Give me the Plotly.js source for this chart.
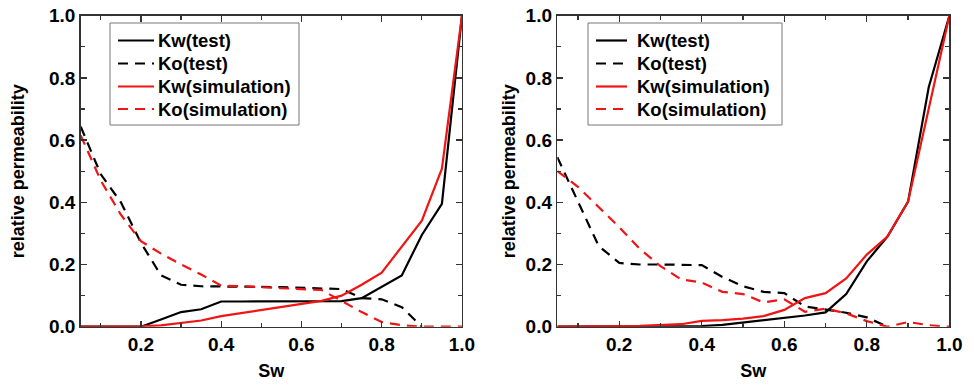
<!DOCTYPE html>
<html>
<head>
<meta charset="utf-8">
<script src="https://cdn.plot.ly/plotly-3.0.1.min.js"></script>
<style>html,body{margin:0;padding:0;background:#fff;}#chart{width:974px;height:387px;}</style>
</head>
<body>
<div id="chart"></div>
<script>
// Water saturation (shared x values)
var sw = [0.05, 0.10, 0.15, 0.20, 0.25, 0.30, 0.35, 0.40, 0.45, 0.50, 0.55, 0.60, 0.65, 0.70, 0.75, 0.80, 0.85, 0.90, 0.95, 1.00];

// Left panel
var kwTestL = [0, 0, 0, 0, 0.023, 0.047, 0.056, 0.081, 0.081, 0.081, 0.081, 0.081, 0.081, 0.082, 0.092, 0.128, 0.165, 0.295, 0.395, 1.0];
var koTestL = [0.643, 0.49, 0.40, 0.27, 0.165, 0.135, 0.13, 0.13, 0.13, 0.128, 0.127, 0.125, 0.124, 0.121, 0.092, 0.088, 0.063, 0.0, null, null];
var kwSimL  = [0, 0, 0, 0.001, 0.004, 0.011, 0.02, 0.034, 0.044, 0.054, 0.064, 0.074, 0.083, 0.100, 0.135, 0.174, 0.257, 0.341, 0.508, 1.0];
var koSimL  = [0.615, 0.47, 0.36, 0.275, 0.235, 0.20, 0.168, 0.132, 0.13, 0.127, 0.124, 0.12, 0.118, 0.083, 0.047, 0.015, 0.005, 0.0, 0.0, 0.0];

// Right panel
var kwTestR = [0, 0, 0, 0, 0, 0, 0, 0.002, 0.006, 0.013, 0.02, 0.027, 0.036, 0.046, 0.105, 0.21, 0.29, 0.402, 0.77, 1.0];
var koTestR = [0.545, 0.40, 0.26, 0.205, 0.20, 0.20, 0.20, 0.198, 0.16, 0.13, 0.112, 0.108, 0.065, 0.056, 0.045, 0.03, 0.0, null, null, null];
var kwSimR  = [0, 0, 0.001, 0.002, 0.003, 0.005, 0.008, 0.019, 0.021, 0.026, 0.034, 0.054, 0.092, 0.108, 0.155, 0.232, 0.29, 0.402, 0.705, 1.0];
var koSimR  = [0.50, 0.45, 0.385, 0.32, 0.25, 0.195, 0.152, 0.142, 0.112, 0.105, 0.078, 0.088, 0.048, 0.058, 0.043, 0.018, 0.0, 0.015, 0.005, 0.0];

var names = ["Kw(test)", "Ko(test)", "Kw(simulation)", "Ko(simulation)"];
var xLabel = "Sw";
var yLabel = "relative permeability";

var BLACK = "#000000", RED = "#f01414";
var DASH = "10px,7px";
var FAMILY = "'Liberation Sans', Arial, sans-serif";
var FONT = {family: FAMILY, size: 18, color: "#000", weight: "bold"};
var TFONT = {family: FAMILY, size: 19, color: "#000", weight: "bold"};
var LFONT = {family: FAMILY, size: 18.5, color: "#000", weight: "bold"};

var W = 974, H = 387;
function tr(y, name, color, dash, xa, ya) {
  return {x: sw, y: y, name: name, type: "scatter", mode: "lines",
    line: {color: color, width: 2.2, dash: dash}, xaxis: xa, yaxis: ya,
    showlegend: false, connectgaps: false, hoverinfo: "skip"};
}

var styles = [[BLACK, "solid"], [BLACK, DASH], [RED, "solid"], [RED, DASH]];
var data = [
  tr(kwTestL, names[0], BLACK, "solid", "x", "y"),
  tr(koTestL, names[1], BLACK, DASH, "x", "y"),
  tr(kwSimL, names[2], RED, "solid", "x", "y"),
  tr(koSimL, names[3], RED, DASH, "x", "y"),
  tr(kwTestR, names[0], BLACK, "solid", "x2", "y2"),
  tr(koTestR, names[1], BLACK, DASH, "x2", "y2"),
  tr(kwSimR, names[2], RED, "solid", "x2", "y2"),
  tr(koSimR, names[3], RED, DASH, "x2", "y2")
];

function xax(dom, anchor) {
  return {domain: dom, anchor: anchor, range: [0.05, 1.0], tick0: 0, dtick: 0.2,
    tickformat: ".1f", ticks: "inside", ticklen: 6, tickwidth: 1.3, tickcolor: "#333",
    showline: true, linecolor: "#333", linewidth: 1.5, mirror: "ticks", showgrid: false, zeroline: false,
    minor: {dtick: 0.1, tick0: 0, ticks: "inside", ticklen: 4, tickwidth: 1.3, tickcolor: "#333", showgrid: false},
    tickfont: TFONT, title: {text: xLabel, font: FONT, standoff: 10}, automargin: false, fixedrange: true};
}
function yax(dom, anchor, standoff) {
  return {domain: dom, anchor: anchor, range: [0, 1.0], tick0: 0, dtick: 0.2,
    tickformat: ".1f", ticks: "inside", ticklen: 6, tickwidth: 1.3, tickcolor: "#333",
    showline: true, linecolor: "#333", linewidth: 1.5, mirror: "ticks", showgrid: false, zeroline: false,
    minor: {dtick: 0.1, tick0: 0, ticks: "inside", ticklen: 4, tickwidth: 1.3, tickcolor: "#333", showgrid: false},
    tickfont: TFONT, title: {text: yLabel, font: FONT, standoff: standoff}, automargin: false, fixedrange: true};
}

// Legend boxes (pixel geometry of the legend frame, sample lines and text rows)
var shapes = [], annotations = [];
function legendBox(x0, x1, y0, y1, sx0, sx1, tx, rows) {
  shapes.push({type: "rect", xref: "paper", yref: "paper", x0: x0 / W, x1: x1 / W, y0: 1 - y1 / H, y1: 1 - y0 / H,
    line: {color: "#777", width: 1}, fillcolor: "rgba(255,255,255,0)", layer: "above"});
  for (var i = 0; i < names.length; i++) {
    var yy = 1 - rows[i] / H;
    shapes.push({type: "line", xref: "paper", yref: "paper", x0: sx0 / W, x1: sx1 / W, y0: yy, y1: yy,
      line: {color: styles[i][0], width: 2.2, dash: styles[i][1]}, layer: "above"});
    annotations.push({xref: "paper", yref: "paper", x: tx / W, y: yy, xanchor: "left", yanchor: "middle",
      text: names[i], showarrow: false, font: LFONT});
  }
}
legendBox(110, 299, 23, 125, 118, 154, 156, [40.5, 63.5, 86.5, 109]);
legendBox(588, 782, 23, 125, 596, 627, 635, [40.5, 63.5, 86.5, 109]);

var layout = {
  width: W, height: H,
  margin: {l: 0, r: 0, t: 0, b: 0},
  paper_bgcolor: "#fff", plot_bgcolor: "#fff",
  font: FONT,
  xaxis: xax([0.0829, 0.4743], "y"),
  yaxis: yax([0.1558, 0.9594], "x", 19),
  xaxis2: xax([0.5722, 0.9747], "y2"),
  yaxis2: yax([0.1558, 0.9594], "x2", 5),
  shapes: shapes,
  annotations: annotations,
  showlegend: false
};

Plotly.newPlot("chart", data, layout, {staticPlot: true, displayModeBar: false});
</script>
</body>
</html>
